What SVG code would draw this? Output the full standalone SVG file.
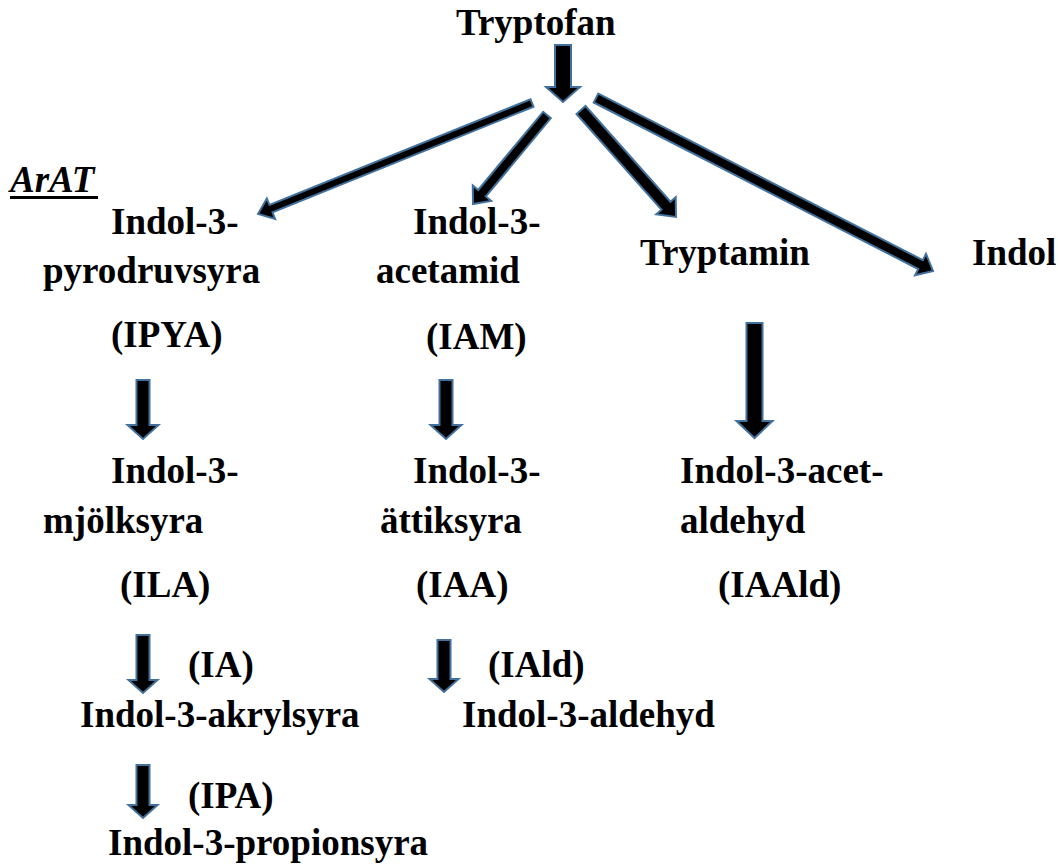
<svg xmlns="http://www.w3.org/2000/svg" width="1058" height="866" viewBox="0 0 1058 866">
<style>
.t{font-family:"Liberation Serif","Times New Roman",serif;font-weight:bold;font-size:37px;fill:#000}
.ar{fill:#000;stroke:#41719C;stroke-width:2;stroke-linejoin:miter}
</style>
<rect width="1058" height="866" fill="#fff"/>
<g id="connectors">
<path class="ar" transform="translate(563,45) rotate(90)" d="M0,-8 L42,-8 L42,-17 L57,0 L42,17 L42,8 L0,8 Z"/>
<path class="ar" transform="translate(532,103) rotate(157.95)" d="M0,-4 L281.6,-4 L281.6,-11 L295.6,0 L281.6,11 L281.6,4 L0,4 Z"/>
<path class="ar" transform="translate(547,115) rotate(129.74)" d="M0,-5 L101.7,-5 L101.7,-12 L115.7,0 L101.7,12 L101.7,5 L0,5 Z"/>
<path class="ar" transform="translate(581,110) rotate(48.4)" d="M0,-6 L128,-6 L128,-13 L143,0 L128,13 L128,6 L0,6 Z"/>
<path class="ar" transform="translate(596,98) rotate(27.17)" d="M0,-5 L364.8,-5 L364.8,-12 L378.8,0 L364.8,12 L364.8,5 L0,5 Z"/>
<path class="ar" transform="translate(143,380) rotate(90)" d="M0,-6.5 L45,-6.5 L45,-15.5 L59,0 L45,15.5 L45,6.5 L0,6.5 Z"/>
<path class="ar" transform="translate(446,380) rotate(90)" d="M0,-6.5 L45,-6.5 L45,-15.5 L59,0 L45,15.5 L45,6.5 L0,6.5 Z"/>
<path class="ar" transform="translate(754.5,323) rotate(90)" d="M0,-8 L98,-8 L98,-18 L115,0 L98,18 L98,8 L0,8 Z"/>
<path class="ar" transform="translate(143,635) rotate(90)" d="M0,-6.5 L45,-6.5 L45,-14.5 L58,0 L45,14.5 L45,6.5 L0,6.5 Z"/>
<path class="ar" transform="translate(444,640) rotate(90)" d="M0,-6.5 L39,-6.5 L39,-14.5 L52,0 L39,14.5 L39,6.5 L0,6.5 Z"/>
<path class="ar" transform="translate(143,765) rotate(90)" d="M0,-6.5 L40,-6.5 L40,-14.5 L53,0 L40,14.5 L40,6.5 L0,6.5 Z"/>
</g>
<g id="tryptofan"><text class="t" x="456" y="35">Tryptofan</text></g>
<g id="arat"><text class="t" x="10" y="192" font-style="italic">ArAT</text><rect x="10" y="196" width="88" height="3" fill="#000"/></g>
<g id="ipya">
<text class="t" x="111" y="234">Indol-3-</text>
<text class="t" x="43" y="283">pyrodruvsyra</text>
<text class="t" x="111" y="347">(IPYA)</text>
</g>
<g id="iam">
<text class="t" x="413" y="234">Indol-3-</text>
<text class="t" x="376" y="283">acetamid</text>
<text class="t" x="426" y="349">(IAM)</text>
</g>
<g id="tryptamin"><text class="t" x="640" y="265">Tryptamin</text></g>
<g id="indol"><text class="t" x="972" y="265">Indol</text></g>
<g id="ila">
<text class="t" x="111" y="483">Indol-3-</text>
<text class="t" x="43" y="533">mjölksyra</text>
<text class="t" x="120" y="597">(ILA)</text>
</g>
<g id="iaa">
<text class="t" x="413" y="483">Indol-3-</text>
<text class="t" x="380" y="533">ättiksyra</text>
<text class="t" x="416" y="597">(IAA)</text>
</g>
<g id="iaald">
<text class="t" x="680" y="483">Indol-3-acet-</text>
<text class="t" x="680" y="533">aldehyd</text>
<text class="t" x="718" y="597">(IAAld)</text>
</g>
<g id="ia">
<text class="t" x="188" y="677">(IA)</text>
<text class="t" x="80" y="727">Indol-3-akrylsyra</text>
</g>
<g id="iald">
<text class="t" x="488" y="677">(IAld)</text>
<text class="t" x="462" y="727">Indol-3-aldehyd</text>
</g>
<g id="ipa">
<text class="t" x="188" y="808">(IPA)</text>
<text class="t" x="108" y="855">Indol-3-propionsyra</text>
</g>
</svg>
